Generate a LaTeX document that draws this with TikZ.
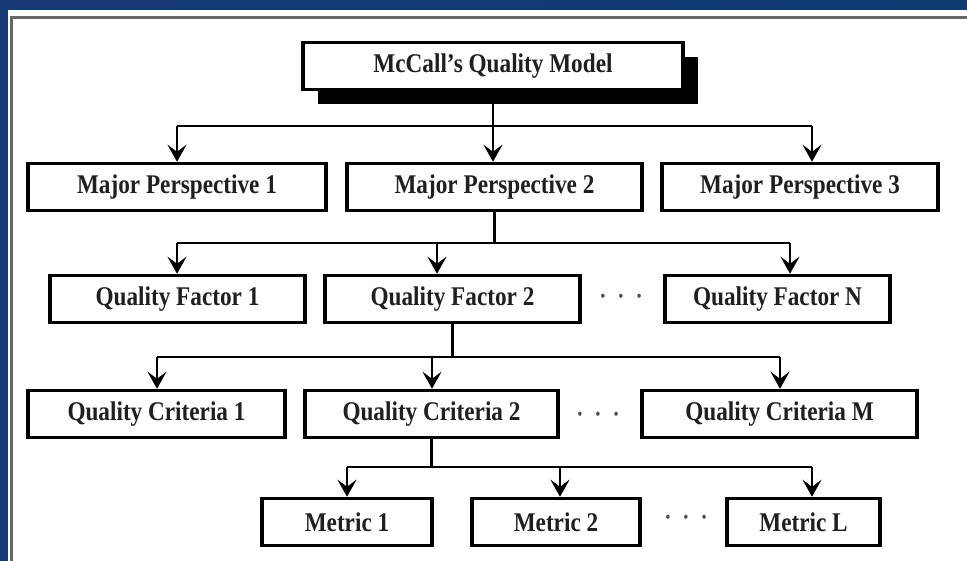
\documentclass[tikz,border=0pt]{standalone}
\usepackage{fontspec}
\setmainfont{Liberation Serif}[FakeStretch=0.86]
\usetikzlibrary{arrows.meta,shadows}

\definecolor{frameL}{RGB}{22,58,118}
\definecolor{frameM}{RGB}{46,96,146}
\definecolor{frameR}{RGB}{14,58,112}

\begin{document}
\begin{tikzpicture}[x=1pt,y=-1pt,
  box/.style={draw=black, line width=3.5pt, fill=white, minimum height=47pt,
    inner sep=0pt, font=\fontsize{27}{32}\selectfont\bfseries, text=black!88},
  link/.style={line width=2.5pt, black},
  arr/.style={link, -{Stealth[length=17pt,width=19pt,inset=7pt]}},
  dots/.style={font=\fontsize{25}{30}\selectfont\bfseries, text=black!70, inner sep=0pt},
]
\useasboundingbox (0,0) rectangle (967,561);

% slide frame and white panel
\shade[left color=frameL, middle color=frameM, right color=frameR] (0,0) rectangle (967,561);
\fill[white] (8,10) rectangle (967,561);
\draw[line width=3pt, black!60] (11,561) -- (11,18) -- (967,18);

% root
\node[box, minimum width=380pt,
  drop shadow={shadow xshift=15pt, shadow yshift=-15pt, fill=black, opacity=1}]
  (top) at (493,66) {McCall’s Quality Model};

% major perspectives
\node[box, minimum width=298pt] (mp1) at (177,187) {Major Perspective 1};
\node[box, minimum width=295pt] (mp2) at (494.5,187) {Major Perspective 2};
\node[box, minimum width=276pt] (mp3) at (800,187) {Major Perspective 3};

% quality factors
\node[box, minimum width=255pt] (qf1) at (177.5,299) {Quality Factor 1};
\node[box, minimum width=255pt] (qf2) at (452.5,299) {Quality Factor 2};
\node[box, minimum width=225pt] (qfn) at (777.5,299) {Quality Factor N};
\node[dots] (d2) at (621,299) {·\hspace{11pt}·\hspace{11pt}·};

% quality criteria
\node[box, minimum width=257pt] (qc1) at (156.5,414) {Quality Criteria 1};
\node[box, minimum width=253pt] (qc2) at (431.5,414) {Quality Criteria 2};
\node[box, minimum width=275pt] (qcm) at (779.5,414) {Quality Criteria M};
\node[dots] (d3) at (598,417) {·\hspace{11pt}·\hspace{11pt}·};

% metrics
\node[box, minimum width=170pt] (m1) at (347,522) {Metric 1};
\node[box, minimum width=168pt] (m2) at (556,522) {Metric 2};
\node[box, minimum width=153pt] (ml) at (803.5,522) {Metric L};
\node[dots] (d4) at (686,520) {·\hspace{11pt}·\hspace{11pt}·};

% bus junctions
\coordinate (b1L) at (177,126);  \coordinate (b1R) at (812,126);
\coordinate (b2L) at (177,243);  \coordinate (b2M) at (437,243);  \coordinate (b2R) at (790,243);
\coordinate (b3L) at (157,357);  \coordinate (b3M) at (432,357);  \coordinate (b3R) at (780,357);
\coordinate (b4L) at (347,467);  \coordinate (b4M) at (560,467);  \coordinate (b4R) at (812,467);

% root -> perspectives
\draw[link] (top.south) -- (top.south |- b1L);
\draw[link] (b1L) -- (b1R);
\draw[arr] (b1L) -- (b1L |- mp1.north);
\draw[arr] (top.south |- b1L) -- (top.south |- mp2.north);
\draw[arr] (b1R) -- (b1R |- mp3.north);

% perspective 2 -> factors
\draw[link] (mp2.south) -- (mp2.south |- b2L);
\draw[link] (b2L) -- (b2R);
\draw[arr] (b2L) -- (b2L |- qf1.north);
\draw[arr] (b2M) -- (b2M |- qf2.north);
\draw[arr] (b2R) -- (b2R |- qfn.north);

% factor 2 -> criteria
\draw[link] (qf2.south) -- (qf2.south |- b3L);
\draw[link] (b3L) -- (b3R);
\draw[arr] (b3L) -- (b3L |- qc1.north);
\draw[arr] (b3M) -- (b3M |- qc2.north);
\draw[arr] (b3R) -- (b3R |- qcm.north);

% criteria 2 -> metrics
\draw[link] (qc2.south) -- (qc2.south |- b4L);
\draw[link] (b4L) -- (b4R);
\draw[arr] (b4L) -- (b4L |- m1.north);
\draw[arr] (b4M) -- (b4M |- m2.north);
\draw[arr] (b4R) -- (b4R |- ml.north);
\end{tikzpicture}
\end{document}
